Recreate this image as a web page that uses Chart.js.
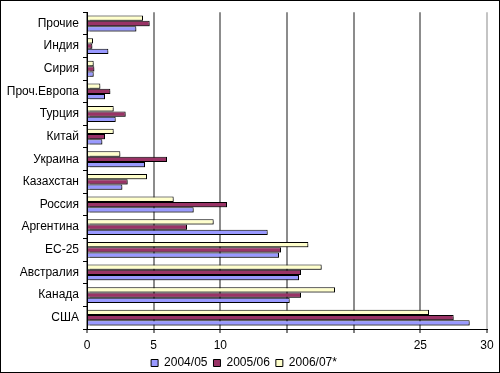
<!DOCTYPE html>
<html>
<head>
<meta charset="utf-8">
<script src="https://cdn.jsdelivr.net/npm/chart.js@4/dist/chart.umd.min.js"></script>
<style>
  html, body { margin: 0; padding: 0; background: #fff; }
  #wrap { width: 498px; height: 371px; border: 1px solid #000; }
</style>
</head>
<body>
<div id="wrap"><canvas id="myChart" width="498" height="371"></canvas></div>
<script>
// data (urutan kategori dari atas ke bawah)
const kategori = [
  "Прочие", "Индия", "Сирия", "Проч.Европа", "Турция", "Китай", "Украина",
  "Казахстан", "Россия", "Аргентина", "ЕС-25", "Австралия", "Канада", "США"
];
const nilai0405 = [3.7, 1.6, 0.5, 1.35, 2.15, 1.15, 4.35, 2.65, 8.0, 13.55, 14.4, 15.9, 15.2, 28.7];
const nilai0506 = [4.7, 0.4, 0.55, 1.75, 2.9, 1.35, 6.0, 3.05, 10.5, 7.5, 14.55, 16.05, 16.05, 27.5];
const nilai0607 = [4.2, 0.45, 0.5, 1.0, 2.0, 2.0, 2.5, 4.5, 6.5, 9.5, 16.6, 17.6, 18.6, 25.65];
const labelSeri = ["2004/05", "2005/06", "2006/07*"];
const tickX = ["0", "5", "10", "", "", "25", "30"];

const fontUtama = "'Liberation Sans', Arial, sans-serif";

// bayangan abu-abu di belakang batang
const bayangan = {
  id: "bayangan",
  beforeDatasetsDraw(chart) {
    const c = chart.ctx;
    c.save();
    c.shadowColor = "rgba(0,0,0,0.35)";
    c.shadowOffsetX = 2;
    c.shadowOffsetY = 2;
    c.shadowBlur = 0;
  },
  afterDatasetsDraw(chart) {
    chart.ctx.restore();
  },
};

const ctx = document.getElementById("myChart").getContext("2d");
new Chart(ctx, {
  type: "bar",
  data: {
    labels: kategori,
    // urutan dibalik supaya 2006/07* di atas dalam tiap grup
    datasets: [
      { label: labelSeri[2], data: nilai0607, backgroundColor: "#FFFFCC" },
      { label: labelSeri[1], data: nilai0506, backgroundColor: "#993366" },
      { label: labelSeri[0], data: nilai0405, backgroundColor: "#9999FF" },
    ],
  },
  plugins: [bayangan],
  options: {
    indexAxis: "y",
    responsive: false,
    animation: false,
    datasets: {
      bar: {
        borderColor: "#000",
        borderWidth: 1,
        categoryPercentage: 0.7,
        barPercentage: 1.0,
      },
    },
    layout: { padding: { top: 5, right: 12, left: 0, bottom: -7 } },
    plugins: {
      tooltip: { enabled: false },
      legend: {
        position: "bottom",
        reverse: true,
        labels: {
          boxWidth: 7,
          boxHeight: 7,
          padding: 6,
          color: "#000",
          font: { family: fontUtama, size: 12 },
        },
      },
    },
    scales: {
      x: {
        min: 0,
        max: 30,
        ticks: {
          stepSize: 5,
          color: "#000",
          padding: 5,
          font: { family: fontUtama, size: 12 },
          callback: (v, i) => tickX[i],
        },
        grid: {
          color: (c) => (c.tick && c.tick.value === 30 ? "#c4c4c4" : "#8c8c8c"),
          lineWidth: 2,
          tickColor: "#000",
          tickLength: 4,
          tickWidth: 1,
        },
        border: { color: "#000", width: 1 },
        afterFit: (s) => { s.height = 22; },
      },
      y: {
        ticks: {
          color: "#000",
          padding: 4,
          font: { family: fontUtama, size: 12 },
        },
        grid: {
          drawOnChartArea: false,
          tickColor: "#000",
          tickLength: 4,
          offset: true,
        },
        border: { color: "#000", width: 1 },
        afterFit: (s) => { s.width = 86; },
      },
    },
  },
});
</script>
</body>
</html>
